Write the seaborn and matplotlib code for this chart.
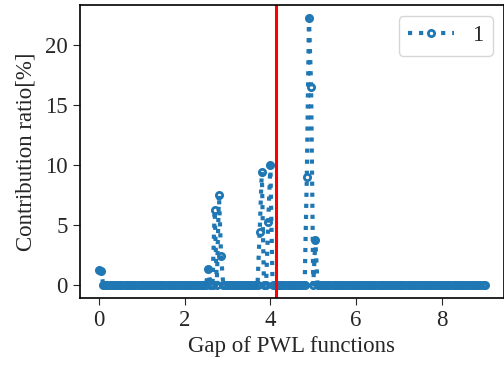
import numpy as np
import pandas as pd
import matplotlib
matplotlib.use("Agg")
import matplotlib.pyplot as plt
import seaborn as sns

# ---- data ----
gaps = np.round(np.arange(0, 9.0001, 0.05), 2)   # PWL gap grid, ratio 0 unless listed below
peak_gaps = [0.00, 0.05, 2.55, 2.70, 2.80, 2.85, 3.75, 3.80, 3.95, 4.00, 4.85, 4.90, 4.95, 5.05]
peak_ratios = [1.25, 1.15, 1.3, 6.2, 7.5, 2.4, 4.4, 9.4, 5.2, 10.0, 9.0, 22.2, 16.5, 3.7]
threshold_gap = 4.13
series_label = "1"

ratios = np.zeros(len(gaps))
for g, r in zip(peak_gaps, peak_ratios):
    ratios[np.argmin(np.abs(gaps - g))] = r
df = pd.DataFrame({"gap": gaps, "ratio": ratios})

# ---- style ----
sns.set_style("ticks")
plt.rcParams["font.family"] = ["Liberation Serif", "DejaVu Serif"]
plt.rcParams["font.size"] = 16.5

fig = plt.figure(figsize=(5.04, 3.71), dpi=100)
ax = fig.add_axes([0.158, 0.197, 0.842, 0.79])

sns.lineplot(data=df, x="gap", y="ratio", ax=ax, estimator=None, sort=True,
             color="#1f77b4", linestyle=":", linewidth=3, marker="o",
             markersize=4.5, markerfacecolor="none", markeredgewidth=2,
             markeredgecolor="#1f77b4", label=series_label)
ax.axvline(threshold_gap, color="red", linewidth=2.2)

ax.set_xlabel("Gap of PWL functions", fontsize=16.5)
ax.set_ylabel("Contribution ratio[%]", fontsize=16.5, labelpad=6)
ax.tick_params(labelsize=16.5, length=5)
ax.set_xticks([0, 2, 4, 6, 8])
ax.set_yticks([0, 5, 10, 15, 20])
for s in ax.spines.values():
    s.set_linewidth(1.2)
    s.set_color("black")
leg = ax.legend(loc="upper right", fontsize=16.5)
for h in leg.get_lines():
    h.set_markerfacecolor("white")

plt.savefig("out.png", dpi=100)
plt.close()
